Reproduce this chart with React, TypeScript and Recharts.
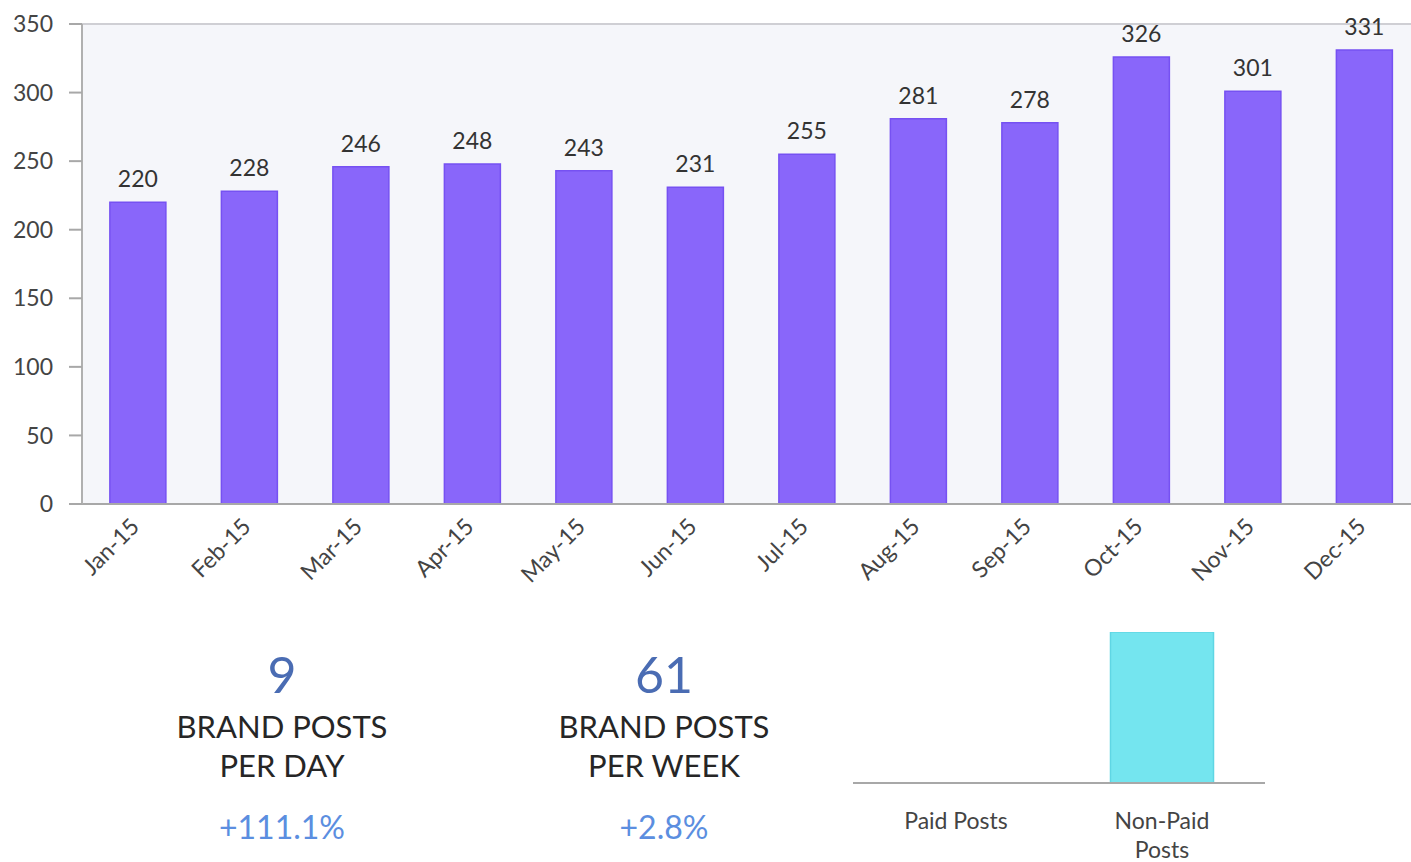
import React from 'react';
import { BarChart, Bar, XAxis, YAxis, CartesianGrid, LabelList, ReferenceLine } from 'recharts';

const months = ['Jan-15', 'Feb-15', 'Mar-15', 'Apr-15', 'May-15', 'Jun-15', 'Jul-15', 'Aug-15', 'Sep-15', 'Oct-15', 'Nov-15', 'Dec-15'];
const brandPosts = [220, 228, 246, 248, 243, 231, 255, 281, 278, 326, 301, 331];
const yTicks = [0, 50, 100, 150, 200, 250, 300, 350];

const postTypes = ['Paid Posts', 'Non-Paid Posts'];
const postShares = [0, 100];

const statValues = ['9', '61'];
const statLabels = [['BRAND POSTS', 'PER DAY'], ['BRAND POSTS', 'PER WEEK']];
const statChanges = ['+111.1%', '+2.8%'];

const monthlyData = months.map((m, i) => ({ month: m, value: brandPosts[i] }));
const typeData = postTypes.map((t, i) => ({ type: t, value: postShares[i] }));

const FONT = 'Lato, "Open Sans", sans-serif';

const MonthTick = (props: any) => {
  const { x, y, payload } = props;
  const bx = x + 3;
  const by = y + 24;
  return (
    <text x={bx} y={by} textAnchor="end" fill="#444" fontSize={23} fontFamily={FONT} transform={`rotate(-45, ${bx}, ${by})`}>
      {payload.value}
    </text>
  );
};

// long labels wrap onto two lines, like the original
const wrapLabel = (s: string) => {
  if (s.length <= 10) return [s];
  const cut = s.lastIndexOf(' ');
  return cut > 0 ? [s.slice(0, cut), s.slice(cut + 1)] : [s];
};

const TypeTick = (props: any) => {
  const { x, y, payload } = props;
  const lines = wrapLabel(String(payload.value));
  return (
    <text x={x} y={y + 46} textAnchor="middle" fill="#444" fontSize={23} fontFamily={FONT}>
      {lines.map((l, i) => (
        <tspan key={i} x={x} dy={i === 0 ? 0 : 29}>{l}</tspan>
      ))}
    </text>
  );
};

const statCenters = [282, 664];

export default function App() {
  return (
    <div style={{ position: 'absolute', left: 0, top: 0, width: 1411, height: 862, overflow: 'hidden', background: '#fff', fontFamily: FONT }}>
      <div style={{ position: 'absolute', left: 0, top: 0 }}>
        <BarChart width={1420} height={600} data={monthlyData} margin={{ top: 24, right: 0, bottom: 0, left: 0 }} barCategoryGap="25%">
          <CartesianGrid horizontal={false} vertical={false} fill="#f5f6fa" stroke="none" />
          <ReferenceLine y={350} stroke="#cfcfd4" strokeWidth={2} />
          <XAxis dataKey="month" height={96} interval={0} tickLine={false} tickSize={0} tickMargin={0} axisLine={{ stroke: '#a8a8a8', strokeWidth: 2 }} tick={<MonthTick />} />
          <YAxis width={82} domain={[0, 350]} ticks={yTicks} interval={0} tickSize={13} tickMargin={16} axisLine={{ stroke: '#b0b0b0', strokeWidth: 2 }} tickLine={{ stroke: '#a8a8a8', strokeWidth: 2 }} tick={{ fill: '#444', fontSize: 23, fontFamily: FONT }} />
          <Bar dataKey="value" fill="#8966fa" stroke="#7651f2" strokeWidth={1.5} isAnimationActive={false}>
            <LabelList dataKey="value" position="top" offset={15} fill="#333" fontSize={23} fontFamily={FONT} />
          </Bar>
        </BarChart>
      </div>

      <svg width={1411} height={862} style={{ position: 'absolute', left: 0, top: 0, pointerEvents: 'none' }}>
        {statValues.map((v, i) => (
          <g key={v} fontFamily={FONT} textAnchor="middle">
            <text x={statCenters[i]} y={693} fontSize={50} fill="#4a6cb3">{v}</text>
            <text x={statCenters[i]} y={738} fontSize={31} fill="#262626">{statLabels[i][0]}</text>
            <text x={statCenters[i]} y={777} fontSize={31} fill="#262626">{statLabels[i][1]}</text>
            <text x={statCenters[i]} y={839} fontSize={32} fill="#5b8ee0">{statChanges[i]}</text>
          </g>
        ))}
      </svg>

      <div style={{ position: 'absolute', left: 853, top: 632 }}>
        <BarChart width={412} height={230} data={typeData} margin={{ top: 0, right: 0, bottom: 0, left: 0 }} barCategoryGap="25%">
          <XAxis dataKey="type" height={79} interval={0} tickLine={false} tickSize={0} tickMargin={0} axisLine={{ stroke: '#a8a8a8', strokeWidth: 2 }} tick={<TypeTick />} />
          <YAxis hide domain={[0, 100]} />
          <Bar dataKey="value" fill="#74e5ef" stroke="#5fd6e4" strokeWidth={1.5} isAnimationActive={false} />
        </BarChart>
      </div>
    </div>
  );
}
